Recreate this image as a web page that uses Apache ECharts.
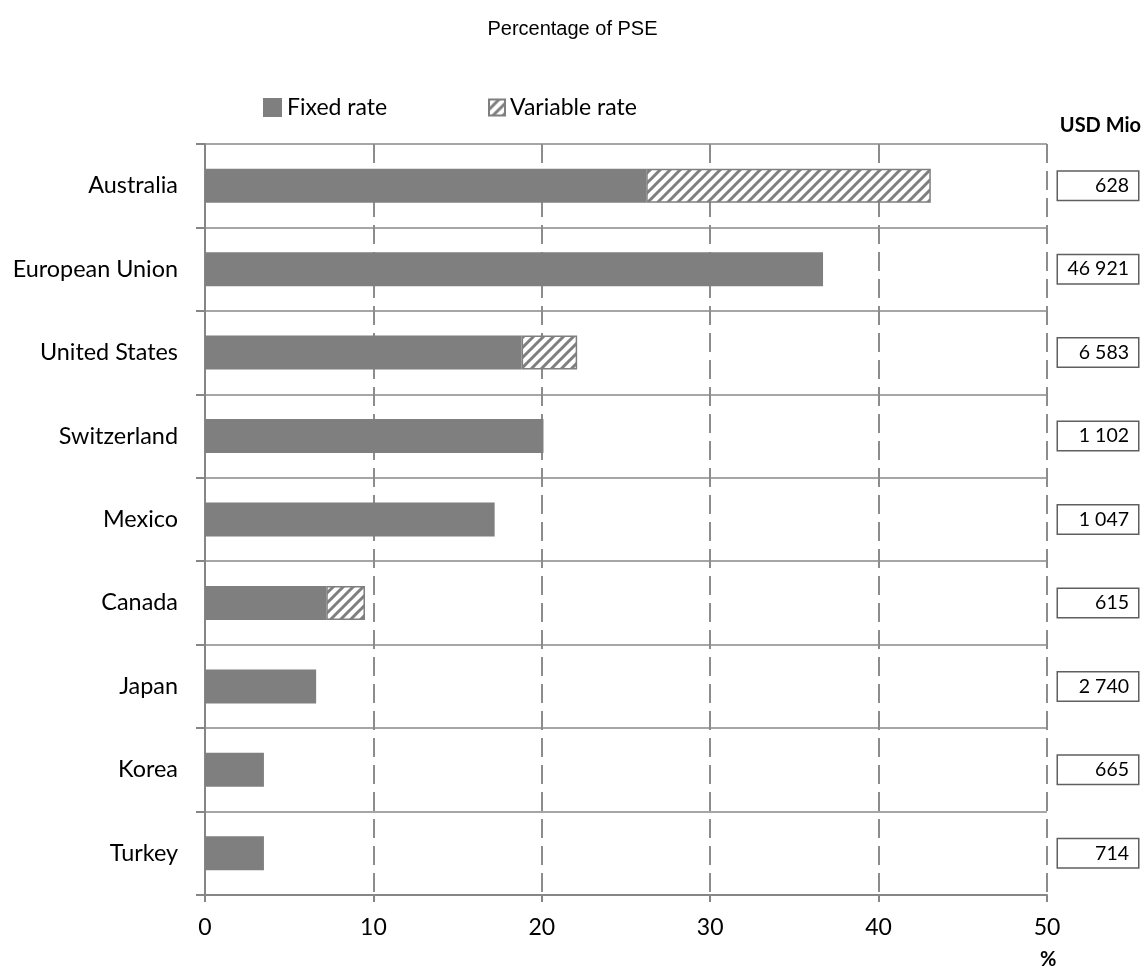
<!DOCTYPE html>
<html>
<head>
<meta charset="utf-8">
<script src="https://cdn.jsdelivr.net/npm/echarts@6/dist/echarts.min.js"></script>
<style>
html,body{margin:0;padding:0;background:#fff;}
#chart{width:1145px;height:971px;}
</style>
</head>
<body>
<div id="chart"></div>
<script>
const countries = ['Australia','European Union','United States','Switzerland','Mexico','Canada','Japan','Korea','Turkey'];
const fixedRate = [26.2, 36.7, 18.8, 20.1, 17.2, 7.2, 6.6, 3.5, 3.5];
const variableRate = [16.9, null, 3.3, null, null, 2.3, null, null, null];
const usdMio = ['628','46 921','6 583','1 102','1 047','615','2 740','665','714'];
const xTicks = {min: 0, max: 50, interval: 10};

function hatch() {
  const s = 10;
  const c = document.createElement('canvas');
  c.width = s; c.height = s;
  const g = c.getContext('2d');
  g.fillStyle = '#ffffff'; g.fillRect(0, 0, s, s);
  g.strokeStyle = '#7f7f7f'; g.lineWidth = 3;
  g.beginPath();
  g.moveTo(-2, s + 2); g.lineTo(s + 2, -2);
  g.moveTo(-2, 2); g.lineTo(2, -2);
  g.moveTo(s - 2, s + 2); g.lineTo(s + 2, s - 2);
  g.stroke();
  return c;
}
const hatchPattern = {image: hatch(), repeat: 'repeat'};

const FONT = 'Lato';
const chart = echarts.init(document.getElementById('chart'), null, {renderer: 'canvas'});
chart.setOption({
  animation: false,
  title: [
    {text: 'Percentage of PSE', left: 'center', top: 14,
     textStyle: {fontFamily: 'Liberation Sans', fontSize: 20, fontWeight: 'normal', color: '#000'}},
    {text: 'USD Mio', right: 4, top: 116, padding: 0,
     textStyle: {fontFamily: FONT, fontSize: 20, fontWeight: 'bold', color: '#000'}},
    {text: '%', left: 1040, top: 950, padding: 0,
     textStyle: {fontFamily: FONT, fontSize: 20, fontWeight: 'bold', color: '#000'}}
  ],
  legend: [
    {data: ['Fixed rate'], left: 263, top: 96, padding: 0, itemWidth: 19, itemHeight: 19, icon: 'rect',
     textStyle: {fontFamily: FONT, fontSize: 23, color: '#000'}},
    {data: ['Variable rate'], left: 488, top: 96, padding: 0, itemWidth: 16, itemHeight: 16, icon: 'rect',
     textStyle: {fontFamily: FONT, fontSize: 23, color: '#000'}}
  ],
  grid: {left: 205, right: 98, top: 144, bottom: 76, containLabel: false},
  xAxis: {
    type: 'value', min: xTicks.min, max: xTicks.max, interval: xTicks.interval,
    axisLine: {show: true, lineStyle: {color: '#868686', width: 2}},
    axisTick: {show: true, length: 7, lineStyle: {color: '#868686', width: 2}},
    axisLabel: {fontFamily: FONT, fontSize: 23, color: '#000', margin: 21},
    splitLine: {show: true, lineStyle: {color: '#8c8c8c', width: 2, type: [19, 8]}}
  },
  yAxis: [
    {
      type: 'category', data: countries, inverse: true,
      axisLine: {show: true, lineStyle: {color: '#868686', width: 2}},
      axisTick: {show: true, length: 9, lineStyle: {color: '#868686', width: 2}},
      axisLabel: {fontFamily: FONT, fontSize: 23.4, color: '#000', margin: 27, interval: 0},
      splitLine: {show: true, interval: 0, lineStyle: {color: '#a6a6a6', width: 2}}
    },
    {
      type: 'category', data: usdMio, inverse: true, position: 'right',
      axisLine: {show: false}, axisTick: {show: false}, splitLine: {show: false},
      axisLabel: {
        fontFamily: FONT, fontSize: 19.5, color: '#000', interval: 0,
        align: 'right', margin: 91, width: 62, lineHeight: 20,
        padding: [4, 9, 4, 9], borderColor: '#5f5f5f', borderWidth: 1.5, backgroundColor: '#fff'
      }
    }
  ],
  series: [
    {name: 'Fixed rate', type: 'bar', stack: 'pse', data: fixedRate, barWidth: 34,
     itemStyle: {color: '#7f7f7f'}},
    {name: 'Variable rate', type: 'bar', stack: 'pse', data: variableRate, barWidth: 34,
     itemStyle: {color: hatchPattern, borderColor: '#7f7f7f', borderWidth: 1.5}}
  ]
});
</script>
</body>
</html>
